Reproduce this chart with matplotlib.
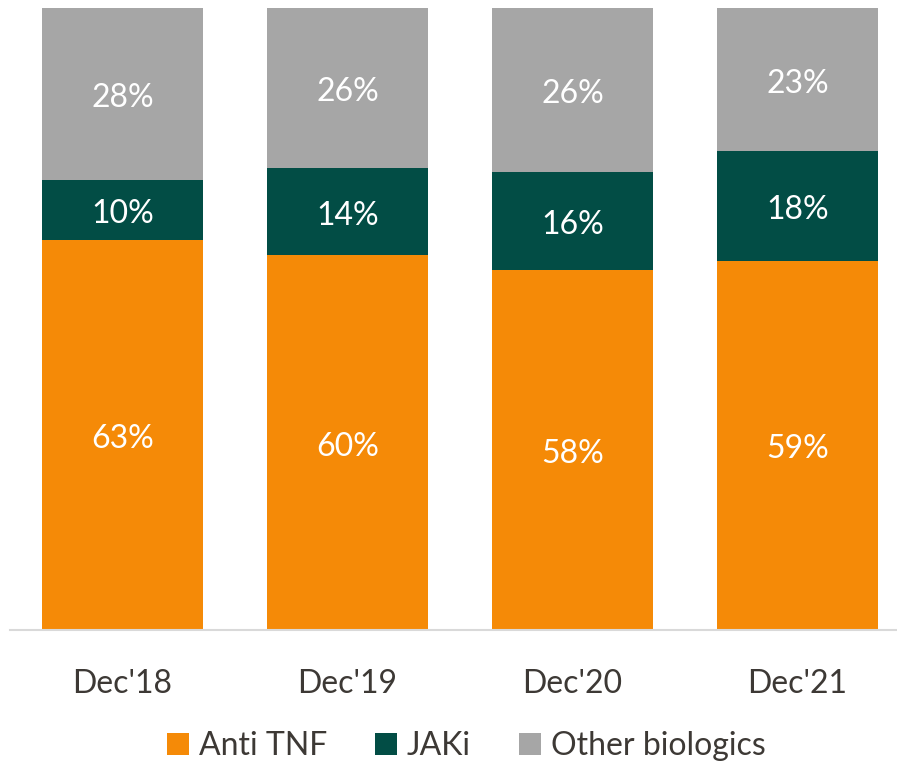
import matplotlib
matplotlib.use("Agg")
import matplotlib.pyplot as plt
from matplotlib.patches import Patch

categories = ["Dec'18", "Dec'19", "Dec'20", "Dec'21"]
anti_tnf = [62.7, 60.3, 57.9, 59.4]
jaki = [9.6, 14.0, 15.8, 17.6]
other = [27.7, 25.7, 26.3, 23.0]
series_names = ["Anti TNF", "JAKi", "Other biologics"]
colors = ["#F58A07", "#024D45", "#A6A6A6"]
text_color = "#3D3935"

plt.rcParams['font.family'] = ['Lato', 'DejaVu Sans']

fig = plt.figure(figsize=(8.97, 7.64), dpi=100)
ax = fig.add_axes([10/897, 1-630/764, 887/897, (630-8)/764])

x = list(range(len(categories)))
width = 0.716
bottoms = [0]*len(x)
for vals, col in zip([anti_tnf, jaki, other], colors):
    ax.bar(x, vals, width, bottom=bottoms, color=col, edgecolor='none')
    for xi, b, v in zip(x, bottoms, vals):
        top = min(b + v, 100)
        ax.annotate(f"{v:.0f}%", xy=(xi, (b + top)/2), xytext=(0, -3),
                    textcoords='offset points', ha='center', va='center',
                    color='white', fontsize=23)
    bottoms = [b + v for b, v in zip(bottoms, vals)]

ax.set_ylim(0, 100)
ax.set_xlim(-0.5, 3.442)
ax.set_yticks([])
ax.set_xticks(x)
ax.set_xticklabels(categories, fontsize=23, color=text_color)
ax.tick_params(axis='x', length=0, pad=28)
for s in ['top', 'right', 'left']:
    ax.spines[s].set_visible(False)
ax.spines['bottom'].set_color('#D9D9D9')
ax.spines['bottom'].set_linewidth(1.5)

handles = [Patch(facecolor=c, edgecolor='none') for c in colors]
fig.legend(handles, series_names, loc='center', bbox_to_anchor=(466/897, 1-746/764),
           ncol=3, frameon=False, fontsize=23, handlelength=0.7, handleheight=0.7,
           handletextpad=0.3, columnspacing=1.5, labelcolor=text_color)

fig.savefig("out.png", dpi=100)
